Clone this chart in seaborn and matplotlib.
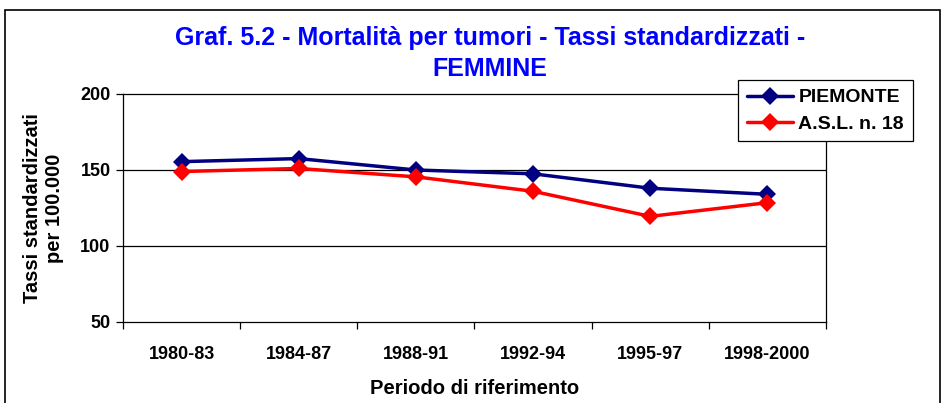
import matplotlib
matplotlib.use("Agg")
import matplotlib.pyplot as plt
import seaborn as sns
import pandas as pd
import numpy as np
from matplotlib.patches import Rectangle

periods = ["1980-83", "1984-87", "1988-91", "1992-94", "1995-97", "1998-2000"]
piemonte = [155.5, 157.5, 150.0, 147.5, 138.0, 134.0]
asl18 = [149.0, 151.0, 145.5, 136.0, 119.5, 128.5]
series_names = ["PIEMONTE", "A.S.L. n. 18"]
colors = ["#000080", "#FF0000"]

sns.set_theme(style="white")
plt.rcParams['font.family'] = ['Liberation Sans', 'DejaVu Sans']
plt.rcParams['text.color'] = 'black'
plt.rcParams['axes.labelcolor'] = 'black'
plt.rcParams['xtick.color'] = 'black'
plt.rcParams['ytick.color'] = 'black'

pos = [i + 0.5 for i in range(len(periods))]
df = pd.DataFrame({
    "pos": pos * 2,
    "val": piemonte + asl18,
    "serie": [series_names[0]] * len(periods) + [series_names[1]] * len(periods),
})

fig = plt.figure(figsize=(9.45, 4.03), dpi=100)
ax = fig.add_axes([123 / 945, 1 - 322 / 403, (826 - 123) / 945, (322 - 94) / 403])

sns.lineplot(data=df, x="pos", y="val", hue="serie", palette=colors,
             marker="D", markersize=9.5, linewidth=2.5, markeredgewidth=0,
             ax=ax, legend=True)

ax.set_xlim(0, len(periods))
ax.set_ylim(50, 200)
ax.set_yticks([50, 100, 150, 200])
ax.set_yticklabels(["50", "100", "150", "200"], fontsize=13, fontweight="bold", color="black")
for y in [100, 150]:
    ax.axhline(y, color="black", lw=0.9, zorder=0)

ax.set_xticks(range(len(periods) + 1))
ax.set_xticklabels([])
ax.set_xticks(pos, minor=True)
ax.set_xticklabels(periods, minor=True, fontsize=13, fontweight="bold", color="black")
ax.tick_params(axis="x", which="major", direction="out", length=5, width=0.9, color="black", bottom=True)
ax.tick_params(axis="x", which="minor", length=0, pad=17)
ax.tick_params(axis="y", direction="out", length=5, width=0.9, color="black", left=True, pad=4)

for s in ax.spines.values():
    s.set_color("black")
    s.set_linewidth(0.9)

ax.set_xlabel("Periodo di riferimento", fontsize=14.5, fontweight="bold", labelpad=12, color="black")
ax.set_ylabel("Tassi standardizzati\nper 100.000", fontsize=14.5, fontweight="bold", labelpad=12, color="black")

fig.text(490 / 945, 1 - 53.5 / 403, "Graf. 5.2 - Mortalità per tumori - Tassi standardizzati -\nFEMMINE",
         ha="center", va="center", color="#0000FF", fontsize=18, fontweight="bold",
         linespacing=1.4)

leg = ax.legend(loc="upper left", bbox_to_anchor=((738 - 123) / 703, 1 + (94 - 80) / 228),
                frameon=True, fancybox=False, edgecolor="black",
                prop={"weight": "bold", "size": 14}, borderpad=0.45, handlelength=2.4,
                labelspacing=0.45, handletextpad=0.25, borderaxespad=0)
leg.get_frame().set_linewidth(0.9)
leg.get_frame().set_alpha(1)
leg.set_title(None)
for t in leg.get_texts():
    t.set_color("black")

fig.patches.append(Rectangle((5 / 945, -0.1), (940 - 5) / 945, 1.1 - 10 / 403,
                             transform=fig.transFigure, fill=False, edgecolor="black", lw=1.2))

fig.savefig("out.png", dpi=100)
